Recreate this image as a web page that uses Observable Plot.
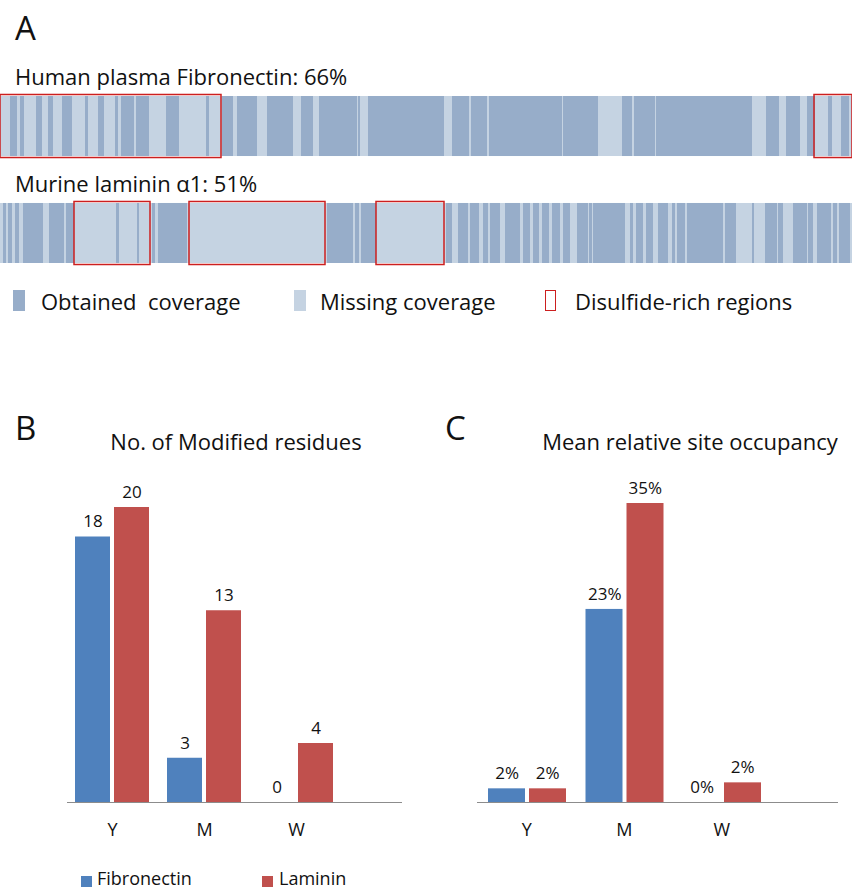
<!DOCTYPE html>
<html>
<head>
<meta charset="utf-8">
<script src="https://cdn.jsdelivr.net/npm/d3@7"></script>
<script src="https://cdn.jsdelivr.net/npm/@observablehq/plot@0.6"></script>
<style>
  html, body { margin: 0; padding: 0; background: #fff; }
  #fig { position: relative; width: 852px; height: 890px; font-family: "Open Sans", Lato, sans-serif; color: #111; overflow: hidden; }
  .t { position: absolute; line-height: 1; white-space: pre; }
  .sw { position: absolute; box-sizing: border-box; }
  .abs { position: absolute; }
</style>
</head>
<body>
<div id="fig"></div>
<script>
// ---------- Panel A data (sequence positions on a 0–852 relative scale) ----------
const proteins = ["Human plasma Fibronectin", "Murine laminin α1"];
const coverageLabels = ["Human plasma Fibronectin: 66%", "Murine laminin α1: 51%"];
const seqLength = [852, 852];
const fnObtained = [[10,17],[20,24],[36,42],[48,53],[62,72],[85,88],[98,104],[115,118],[121,134],[136,149],[166,179],[206,209],[222,233],[237,257],[267,293],[301,313],[319,357],[358,360],[368,444],[452,469],[471,487],[489,562],[563,598],[622,632],[634,655],[656,752],[766,779],[786,800],[807,815],[828,832],[841,849]];
const lnObtained = [[3,6],[8,12],[15,19],[23,43],[49,64],[66,74],[116,119],[137,139],[152,155],[158,187],[327,353],[355,359],[361,376],[446,452],[458,468],[470,479],[483,488],[490,500],[505,520],[523,530],[533,539],[542,549],[552,560],[563,570],[577,588],[589,592],[593,625],[630,633],[636,643],[646,653],[658,668],[672,675],[677,685],[687,723],[725,736],[752,754],[765,777],[778,783],[793,807],[808,813],[817,831],[833,837],[839,850]];
const fnDisulfide = [[0,221],[814,852]];
const lnDisulfide = [[74,150],[189,325],[376,444]];
const legendA = ["Obtained  coverage", "Missing coverage", "Disulfide-rich regions"];

// ---------- Panels B and C data ----------
const residues = ["Y", "M", "W"];
const series = ["Fibronectin", "Laminin"];
const fnModified = [18, 3, 0];
const lnModified = [20, 13, 4];
const fnOccupancy = [1.6, 22.6, 0];
const lnOccupancy = [1.6, 35, 2.3];
const titleB = "No. of Modified residues";
const titleC = "Mean relative site occupancy";

const cDark = "#97adc9", cLight = "#c5d3e2", cRed = "#cc1f1f";
const cFn = "#4f81bd", cLn = "#c0504d";
const FONT = "'Open Sans', Lato, sans-serif";

const fig = document.getElementById("fig");
function addText(txt, left, baseline, fs, opts = {}) {
  const d = document.createElement("div");
  d.className = "t";
  d.textContent = txt;
  d.style.fontSize = fs + "px";
  d.style.top = (baseline - 0.888 * fs) + "px";
  if (opts.center != null) {
    d.style.left = (opts.center - 300) + "px";
    d.style.width = "600px";
    d.style.textAlign = "center";
  } else {
    d.style.left = left + "px";
  }
  fig.appendChild(d);
  return d;
}
function addSwatch(left, top, w, h, fill, stroke) {
  const d = document.createElement("div");
  d.className = "sw";
  Object.assign(d.style, {left: left + "px", top: top + "px", width: w + "px", height: h + "px",
    background: fill || "transparent", border: stroke ? `1.5px solid ${stroke}` : "none"});
  fig.appendChild(d);
}
function place(node, left, top) {
  node.classList.add("abs");
  node.style.left = left + "px";
  node.style.top = top + "px";
  fig.appendChild(node);
}

// ---------- Panel A ----------
addText("A", 15, 40, 33);
addText(coverageLabels[0], 15, 85, 22);
addText(coverageLabels[1], 15, 192, 22);

const full = proteins.map((p, i) => ({protein: p, start: 0, end: seqLength[i]}));
const obtained = [
  ...fnObtained.map(([s, e]) => ({protein: proteins[0], start: s, end: e})),
  ...lnObtained.map(([s, e]) => ({protein: proteins[1], start: s, end: e}))
];
const disulfide = [
  ...fnDisulfide.map(([s, e]) => ({protein: proteins[0], start: s, end: e})),
  ...lnDisulfide.map(([s, e]) => ({protein: proteins[1], start: s, end: e}))
];

const plotA = Plot.plot({
  width: 852, height: 180, margin: 0,
  style: {background: "transparent", overflow: "visible"},
  x: {domain: [0, 852], range: [0, 852], axis: null},
  y: {domain: proteins, range: [6, 173], paddingInner: 0.439, paddingOuter: 0, round: false, axis: null},
  marks: [
    Plot.barX(full, {x1: "start", x2: "end", y: "protein", fill: cLight}),
    Plot.barX(obtained, {x1: "start", x2: "end", y: "protein", fill: cDark}),
    Plot.barX(disulfide, {x1: "start", x2: "end", y: "protein", fill: "none", stroke: cRed, strokeWidth: 1.5, insetTop: -1.5, insetBottom: -1.5})
  ]
});
place(plotA, 0, 90);

// legend A
addSwatch(13, 290, 12, 21, cDark);
addText(legendA[0], 41, 310, 22);
addSwatch(294, 290, 12, 21, cLight);
addText(legendA[1], 320, 310, 22);
addSwatch(545, 290, 11, 21, null, cRed);
addText(legendA[2], 575, 310, 22);

// ---------- Panels B & C ----------
function groupedChart({values1, values2, yMax, width, marginLeft, marginRight, marginTop, xRange, fmt, ins}) {
  const d1 = residues.map((r, i) => ({residue: r, series: series[0], value: values1[i]}));
  const d2 = residues.map((r, i) => ({residue: r, series: series[1], value: values2[i]}));
  return Plot.plot({
    width, height: 390, marginLeft, marginRight, marginTop, marginBottom: 48,
    style: {background: "transparent", fontFamily: FONT, fontSize: "17px", color: "#111", overflow: "visible"},
    x: {domain: residues, range: xRange, padding: 0, round: false, axis: null, label: null},
    y: {domain: [0, yMax], axis: null},
    marks: [
      Plot.barY(d1, {x: "residue", y: "value", fill: cFn, insetLeft: ins[0], insetRight: ins[1]}),
      Plot.barY(d2, {x: "residue", y: "value", fill: cLn, insetLeft: ins[2], insetRight: ins[3]}),
      Plot.ruleY([0], {stroke: "#8c8c8c", strokeWidth: 1}),
      Plot.text(d1, {x: "residue", y: "value", text: d => fmt(d.value), dx: ins.dx1, dy: -15, fill: "#111", fontSize: 17}),
      Plot.text(d2, {x: "residue", y: "value", text: d => fmt(d.value), dx: ins.dx2, dy: -15, fill: "#111", fontSize: 17}),
      Plot.axisX({tickSize: 0, tickPadding: 21, fontSize: 18, fill: "#111", label: null})
    ]
  });
}

addText("B", 15, 440, 33);
addText(titleB, 0, 450, 22, {center: 236});
const insB = [9, 48, 48, 9]; insB.dx1 = -19.5; insB.dx2 = 19.5;
const plotB = groupedChart({values1: fnModified, values2: lnModified, yMax: 20, width: 420,
  marginLeft: 67, marginRight: 18, marginTop: 47, xRange: [66, 342], fmt: v => String(v), ins: insB});
place(plotB, 0, 460);

addText("C", 445, 440, 33);
addText(titleC, 0, 450, 22, {center: 690});
const insC = [10.5, 50, 51.5, 9]; insC.dx1 = -19.5; insC.dx2 = 21;
const plotC = groupedChart({values1: fnOccupancy, values2: lnOccupancy, yMax: 35, width: 422,
  marginLeft: 47, marginRight: 14, marginTop: 43, xRange: [47.5, 340], fmt: v => Math.round(v) + "%", ins: insC});
place(plotC, 430, 460);

// bottom legend
addSwatch(81, 876, 11, 11, cFn);
addText(series[0], 97, 885, 18);
addSwatch(262, 876, 11, 11, cLn);
addText(series[1], 279, 885, 18);
</script>
</body>
</html>
